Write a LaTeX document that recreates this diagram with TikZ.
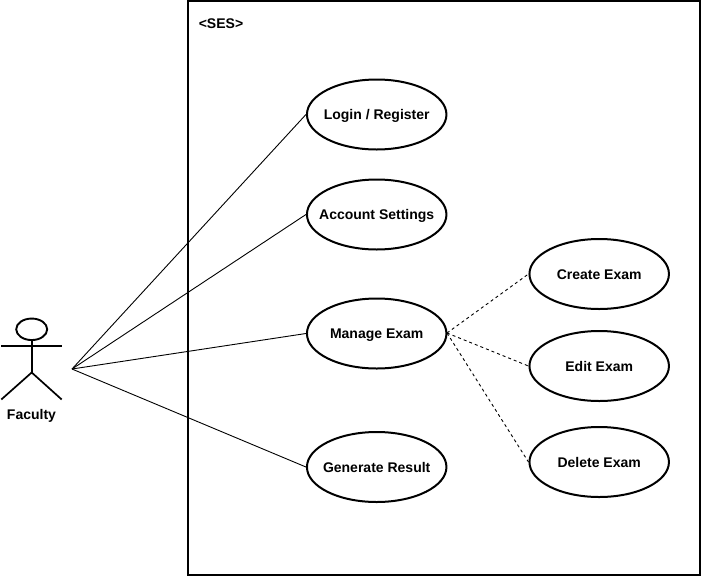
\documentclass[tikz,border=0pt]{standalone}
\usepackage{fontspec}
\setmainfont{Liberation Sans}
\usetikzlibrary{shapes.geometric}
\newcommand{\uctext}[1]{\makebox[0pt][c]{\smash{\raisebox{-5pt}{#1}}}}
\begin{document}
\begin{tikzpicture}[x=1pt,y=-1pt,
  every node/.style={font=\bfseries\fontsize{14}{16}\selectfont},
  usecase/.style={draw,ellipse,line width=2pt,minimum width=139.5pt,minimum height=70pt,inner sep=0pt,fill=white},
  assoc/.style={line width=0.9pt},
  dep/.style={line width=0.9pt,dash pattern=on 3pt off 3pt},
  txt/.style={inner sep=0pt}]
\useasboundingbox (0,0) rectangle (701,576);
\fill[white] (0,0) rectangle (701,576);
\draw[line width=2pt] (188,1.2) rectangle (699.5,574.8);
\node[txt] (ses) at (221,23.8) {\uctext{<SES>}};
\coordinate (hub) at (72,369);
\coordinate (mhub) at (447,333);
\node[usecase] (login) at (376.7,114.5) {\uctext{Login / Register}};
\node[usecase] (acct) at (376.7,214.5) {\uctext{Account Settings}};
\node[usecase] (manage) at (376.7,333.5) {\uctext{Manage Exam}};
\node[usecase] (result) at (376.7,467) {\uctext{Generate Result}};
\node[usecase] (create) at (599.2,274) {\uctext{Create Exam}};
\node[usecase] (edit) at (599.2,366) {\uctext{Edit Exam}};
\node[usecase] (delete) at (599.2,462) {\uctext{Delete Exam}};
\draw[assoc] (hub) -- (login.west);
\draw[assoc] (hub) -- (acct.west);
\draw[assoc] (hub) -- (manage.west);
\draw[assoc] (hub) -- (result.west);
\draw[dep] (mhub) -- (create.west);
\draw[dep] (mhub) -- (edit.west);
\draw[dep] (mhub) -- (delete.west);
% actor
\node[draw,ellipse,line width=1.9pt,minimum width=31pt,minimum height=21.5pt,inner sep=0pt] (head) at (31.7,329.3) {};
\coordinate (hip) at (31.7,372.5);
\coordinate (armL) at (1.3,346);
\coordinate (armR) at (61.7,346);
\coordinate (footL) at (1.3,399.5);
\coordinate (footR) at (61.7,399.5);
\draw[line width=1.7pt] (head.south) -- (hip);
\draw[line width=1.7pt] (armL) -- (armR);
\draw[line width=1.7pt] (footL) -- (hip) -- (footR);
\node[txt] (faculty) at (31.5,414) {\uctext{Faculty}};
\end{tikzpicture}
\end{document}
